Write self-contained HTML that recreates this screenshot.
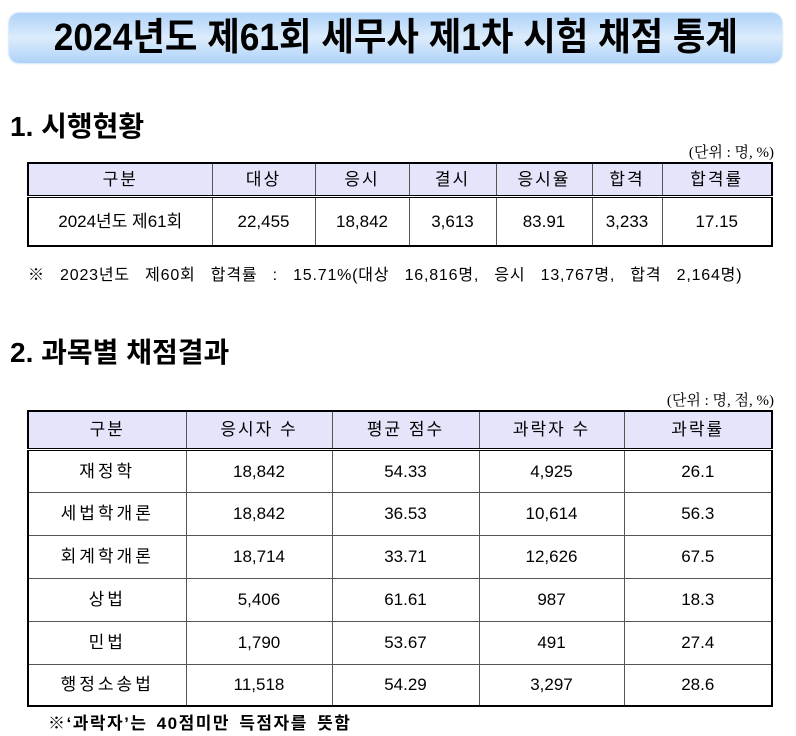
<!DOCTYPE html>
<html><head><meta charset="utf-8"><style>
*{margin:0;padding:0;box-sizing:border-box}
body{width:796px;height:736px;background:#fff;position:relative;font-family:"Liberation Sans","Noto Sans CJK KR",sans-serif;color:#000;overflow:hidden}
.a{position:absolute;white-space:nowrap}
.title{left:9px;top:13px;width:773px;height:50px;border-radius:10px;background:linear-gradient(#aed2f8,#dcecfc 50%,#aed2f8);box-shadow:0 0 2px #9bc4ef;text-align:center;font-size:38px;font-weight:bold;line-height:50px}
.h{font-size:28px;font-weight:bold;line-height:1}
table{position:absolute;border-collapse:collapse;border:2px solid #000;font-size:17px;text-align:center;table-layout:fixed}
td{border:1px solid #555;padding:0;line-height:1;vertical-align:middle}
tr.hd td{background:#e4e4fa;border-bottom:3px double #000;letter-spacing:2px}
.k{letter-spacing:3px}
</style></head><body>
<div class="a title"><span style="display:inline-block;transform:scaleX(0.93)">2024년도 제61회 세무사 제1차 시험 채점 통계</span></div>
<div class="a h" style="left:10px;top:113px">1. 시행현황</div>
<div class="a" style="right:22px;top:141px;font-size:15px;font-family:'Liberation Serif','Noto Serif CJK SC',serif">(단위 : 명, %)</div>
<table style="left:27px;top:162px;width:746px">
<colgroup><col style="width:184px"><col style="width:103px"><col style="width:94px"><col style="width:87px"><col style="width:96px"><col style="width:70px"><col></colgroup>
<tr class="hd" style="height:33px"><td>구분</td><td>대상</td><td>응시</td><td>결시</td><td>응시율</td><td>합격</td><td>합격률</td></tr>
<tr style="height:50px"><td>2024년도 제61회</td><td>22,455</td><td>18,842</td><td>3,613</td><td>83.91</td><td>3,233</td><td>17.15</td></tr>
</table>
<div class="a" style="left:28px;top:261px;font-size:16px;letter-spacing:0.8px;word-spacing:10px">※ 2023년도 제60회 합격률 : 15.71%(대상 16,816명, 응시 13,767명, 합격 2,164명)</div>
<div class="a h" style="left:10px;top:339px">2. 과목별 채점결과</div>
<div class="a" style="right:22px;top:389px;font-size:15px;font-family:'Liberation Serif','Noto Serif CJK SC',serif">(단위 : 명, 점, %)</div>
<table style="left:27px;top:410px;width:746px">
<colgroup><col style="width:158px"><col style="width:146px"><col style="width:147px"><col style="width:145px"><col></colgroup>
<tr class="hd" style="height:38px"><td>구분</td><td>응시자 수</td><td>평균 점수</td><td>과락자 수</td><td>과락률</td></tr>
<tr style="height:43px"><td class="k">재정학</td><td>18,842</td><td>54.33</td><td>4,925</td><td>26.1</td></tr>
<tr style="height:43px"><td class="k">세법학개론</td><td>18,842</td><td>36.53</td><td>10,614</td><td>56.3</td></tr>
<tr style="height:43px"><td class="k">회계학개론</td><td>18,714</td><td>33.71</td><td>12,626</td><td>67.5</td></tr>
<tr style="height:43px"><td class="k">상법</td><td>5,406</td><td>61.61</td><td>987</td><td>18.3</td></tr>
<tr style="height:43px"><td class="k">민법</td><td>1,790</td><td>53.67</td><td>491</td><td>27.4</td></tr>
<tr style="height:42px"><td class="k">행정소송법</td><td>11,518</td><td>54.29</td><td>3,297</td><td>28.6</td></tr>
</table>
<div class="a" style="left:48px;top:709px;font-size:17px;font-weight:bold;letter-spacing:1.5px;word-spacing:3px">※‘과락자’는 40점미만 득점자를 뜻함</div>
</body></html>
